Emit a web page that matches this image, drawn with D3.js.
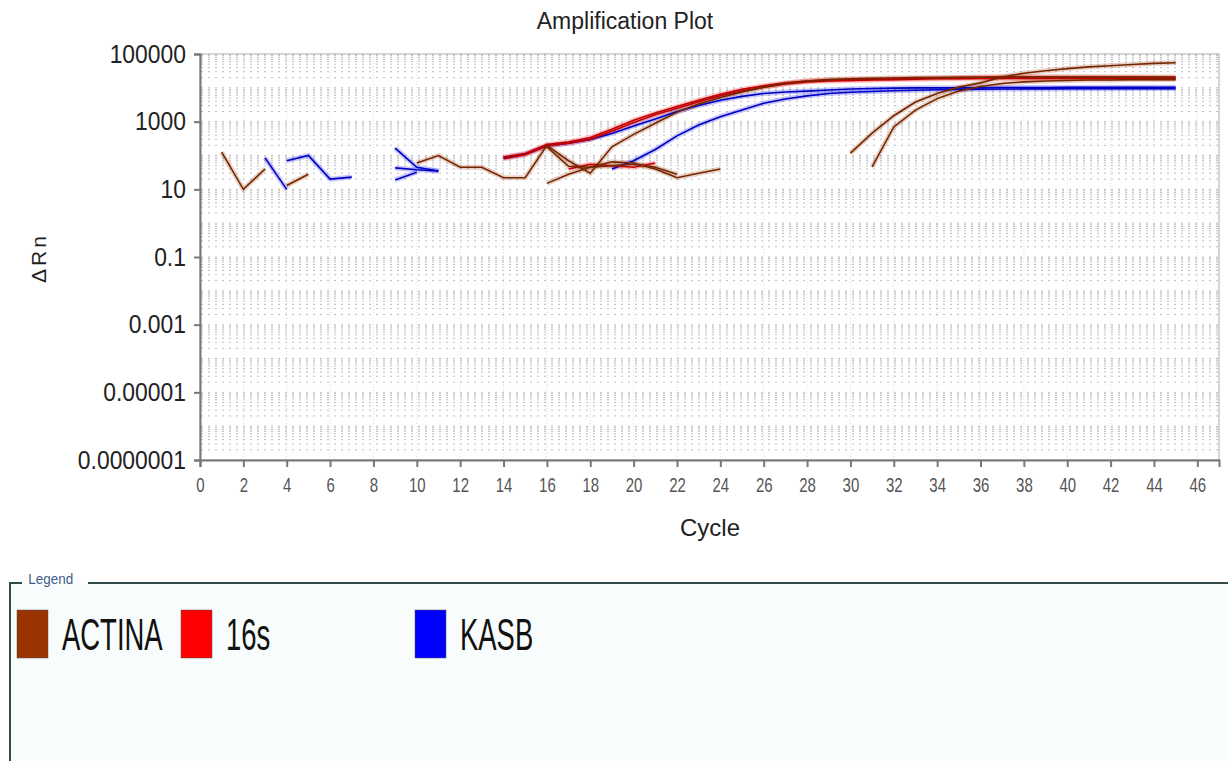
<html>
<head>
  <title>Amplification Plot</title>
  <script src="https://d3js.org/d3.v7.min.js"></script>
  <style>
    body { margin: 0; background: #fff; }
    text { font-family: "Liberation Sans", Arial, sans-serif; }
  </style>
</head>
<body>
<script>
// traces, [cycle, delta Rn]
var actina1 = [[1,125],[2,10],[3,40]];
var actina2 = [[4,13],[5,28]];
var actina3 = [[10,60],[11,100],[12,45],[13,45],[14,22],[15,22],[16,200],[17,70],[18,30],[19,180],[20,420],[21,900],[22,1900],[23,3300],[24,5200],[25,7600],[26,10500],[27,13500],[28,16000],[29,17500],[30,18500],[31,19000],[32,19500],[33,20000],[34,20000],[35,20500],[36,20500],[37,21000],[38,21000],[39,21000],[40,21000],[41,21000],[42,21000],[43,21000],[44,21000],[45,21000]];
var actina4 = [[16,15],[17,28],[18,45],[19,50],[20,55],[21,45],[22,28]];
var actina5 = [[16,180],[17,48],[18,45],[19,65],[20,60],[21,40],[22,22],[23,30],[24,40]];
var actina6 = [[30,118],[31,460],[32,1500],[33,3800],[34,6800],[35,10500],[36,14000],[37,21000],[38,27000],[39,32000],[40,37000],[41,41500],[42,45000],[43,49000],[44,53000],[45,55000]];
var actina7 = [[31,46],[32,700],[33,2200],[34,4800],[35,8000],[36,11000],[37,13500],[38,15000],[39,16000],[40,16500],[41,17000],[42,17000],[43,17500],[44,17500],[45,17500]];

var s16_1 = [[14,90],[15,115],[16,210],[17,250],[18,340],[19,600],[20,1100],[21,1800],[22,2800],[23,4300],[24,6500],[25,9000],[26,11500],[27,14000],[28,16000],[29,17000],[30,17500],[31,18000],[32,18500],[33,19000],[34,19500],[35,20000],[36,20500],[37,21000],[38,21000],[39,21000],[40,21000],[41,21000],[42,20500],[43,20500],[44,20000],[45,20000]];
var s16_2 = [[14,80],[15,105],[16,190],[17,230],[18,300],[19,520],[20,950],[21,1600],[22,2500],[23,3900],[24,5800],[25,8000],[26,10500],[27,13000],[28,15000],[29,16000],[30,16500],[31,17000],[32,17500],[33,18000],[34,18500],[35,18500],[36,19000],[37,19000],[38,19000],[39,19000],[40,19000],[41,19000],[42,19000],[43,19000],[44,19000],[45,19000]];
var s16_3 = [[17,40],[18,55],[19,50],[20,45],[21,60]];

var kasb1 = [[3,85],[4,10]];
var kasb2 = [[4,70],[5,100],[6,20],[7,23]];
var kasb3 = [[9,165],[10,45],[11,35]];
var kasb4 = [[9,43],[10,38],[11,35]];
var kasb5 = [[9,19],[10,32]];
var kasb6 = [[14,85],[15,110],[16,195],[17,230],[18,300],[19,450],[20,750],[21,1200],[22,2000],[23,3000],[24,4300],[25,5600],[26,6800],[27,7500],[28,8000],[29,8600],[30,9200],[31,9600],[32,9800],[33,10000],[34,10000],[35,10000],[36,10000],[37,10200],[38,10200],[39,10200],[40,10300],[41,10300],[42,10300],[43,10400],[44,10400],[45,10400]];
var kasb7 = [[19,40],[20,70],[21,150],[22,380],[23,800],[24,1400],[25,2200],[26,3500],[27,4700],[28,5800],[29,6800],[30,7400],[31,7800],[32,8200],[33,8500],[34,8800],[35,9000],[36,9100],[37,9200],[38,9300],[39,9300],[40,9400],[41,9400],[42,9400],[43,9500],[44,9500],[45,9500]];

var yTickValues = [100000, 1000, 10, 0.1, 0.001, 0.00001, 0.0000001];
var yTickLabels = ["100000", "1000", "10", "0.1", "0.001", "0.00001", "0.0000001"];
var xTickValues = [0,2,4,6,8,10,12,14,16,18,20,22,24,26,28,30,32,34,36,38,40,42,44,46];
var legendNames = ["ACTINA", "16s", "KASB"];
var legendColors = ["#993300", "#ff0000", "#0000ff"];

var width = 1228, height = 761;

var svg = d3.select('body').append('svg')
  .attr('width', width)
  .attr('height', height);

var x = d3.scaleLinear().domain([0, 47]).range([200, 1219]);
var y = d3.scaleLog().domain([1e-7, 1e5]).range([460, 54]);
var color = d3.scaleOrdinal().domain(legendNames).range(legendColors);

// background grid
var grid = svg.append('g');
var minor = [];
for (var e = -7; e < 5; e++) {
  for (var k = 1; k < 10; k++) minor.push(k * Math.pow(10, e));
}
minor.push(1e5);
grid.selectAll('line.h').data(minor).enter().append('line')
  .attr('x1', 201).attr('x2', 1219)
  .attr('y1', d => y(d)).attr('y2', d => y(d))
  .attr('stroke', '#bdbdbd')
  .attr('stroke-width', 1)
  .attr('stroke-dasharray', '2,5');
grid.selectAll('line.v').data(xTickValues.concat([47])).enter().append('line')
  .attr('x1', d => x(d)).attr('x2', d => x(d))
  .attr('y1', 54).attr('y2', 460)
  .attr('stroke', '#dedede')
  .attr('stroke-dasharray', '1,2');

// frame
svg.append('rect')
  .attr('x', 200).attr('y', 54)
  .attr('width', 1019).attr('height', 406)
  .attr('fill', 'none')
  .attr('stroke', '#b0b0b0');

// traces
var traces = [
  {name: 'KASB', pts: kasb1}, {name: 'KASB', pts: kasb2}, {name: 'KASB', pts: kasb3},
  {name: 'KASB', pts: kasb4}, {name: 'KASB', pts: kasb5}, {name: 'KASB', pts: kasb6},
  {name: 'KASB', pts: kasb7},
  {name: '16s', pts: s16_1}, {name: '16s', pts: s16_2}, {name: '16s', pts: s16_3},
  {name: 'ACTINA', pts: actina1}, {name: 'ACTINA', pts: actina2}, {name: 'ACTINA', pts: actina3},
  {name: 'ACTINA', pts: actina4}, {name: 'ACTINA', pts: actina5}, {name: 'ACTINA', pts: actina6},
  {name: 'ACTINA', pts: actina7}
];

var line = d3.line()
  .x(d => x(d[0]))
  .y(d => y(d[1]));

var lines = svg.append('g');
lines.selectAll('path.halo').data(traces).enter().append('path')
  .attr('d', d => line(d.pts))
  .attr('fill', 'none')
  .attr('stroke', d => color(d.name))
  .attr('stroke-opacity', 0.22)
  .attr('stroke-width', 5);
lines.selectAll('path.core').data(traces).enter().append('path')
  .attr('d', d => line(d.pts))
  .attr('fill', 'none')
  .attr('stroke', d => d3.color(color(d.name)).darker(0.8))
  .attr('stroke-width', 1.6);

// axes
var yAxis = svg.append('g')
  .attr('transform', 'translate(200,0)')
  .call(d3.axisLeft(y).tickValues(yTickValues).tickFormat((d, i) => yTickLabels[i]).tickSize(6).tickPadding(10));
yAxis.selectAll('path, line').attr('stroke', '#777').attr('stroke-width', 2);
yAxis.selectAll('text')
  .attr('font-size', 26)
  .attr('fill', '#222')
  .attr('transform', 'scale(0.88,1)');

var xAxis = svg.append('g')
  .attr('transform', 'translate(0,460)')
  .call(d3.axisBottom(x).tickValues(xTickValues).tickSize(7).tickPadding(11));
xAxis.select('.domain').attr('stroke', '#777').attr('stroke-width', 2);
xAxis.selectAll('line').attr('stroke', '#777').attr('stroke-width', 2);
xAxis.selectAll('text')
  .attr('font-size', 20)
  .attr('fill', '#555')
  .attr('transform', 'scale(0.75,1)');

// titles
svg.append('text')
  .attr('x', 625).attr('y', 29)
  .attr('text-anchor', 'middle')
  .attr('font-size', 23)
  .attr('fill', '#222')
  .text('Amplification Plot');

svg.append('text')
  .attr('x', 710).attr('y', 536)
  .attr('text-anchor', 'middle')
  .attr('font-size', 24)
  .attr('fill', '#222')
  .text('Cycle');

svg.append('text')
  .attr('transform', 'translate(46,258) rotate(-90)')
  .attr('text-anchor', 'middle')
  .attr('font-size', 21)
  .attr('letter-spacing', 3)
  .attr('fill', '#222')
  .text('ΔRn');

// legend box
var legend = svg.append('g');
legend.append('rect')
  .attr('x', 10).attr('y', 583)
  .attr('width', 1218).attr('height', 178)
  .attr('fill', '#f8fcfc');
legend.append('path')
  .attr('d', 'M22,583 H10 V761 M88,583 H1228')
  .attr('fill', 'none')
  .attr('stroke', '#33494a')
  .attr('stroke-width', 2);
legend.append('text')
  .attr('x', 28).attr('y', 584)
  .attr('font-size', 15)
  .attr('fill', '#3f5c88')
  .attr('transform', 'translate(3,0) scale(0.9,1)')
  .text('Legend');

var legendX = [17, 181, 415];
var items = legend.selectAll('g.item').data(legendNames).enter().append('g')
  .attr('transform', (d, i) => 'translate(' + legendX[i] + ',610)');
items.append('rect')
  .attr('width', 31).attr('height', 48)
  .attr('fill', d => color(d))
  .attr('stroke', '#555')
  .attr('stroke-width', 0.5);
items.append('text')
  .attr('x', 45).attr('y', 40)
  .attr('font-size', 45)
  .attr('fill', '#111')
  .attr('transform', 'translate(45,0) scale(0.61,1) translate(-45,0)')
  .text(d => d);
</script>
</body>
</html>
